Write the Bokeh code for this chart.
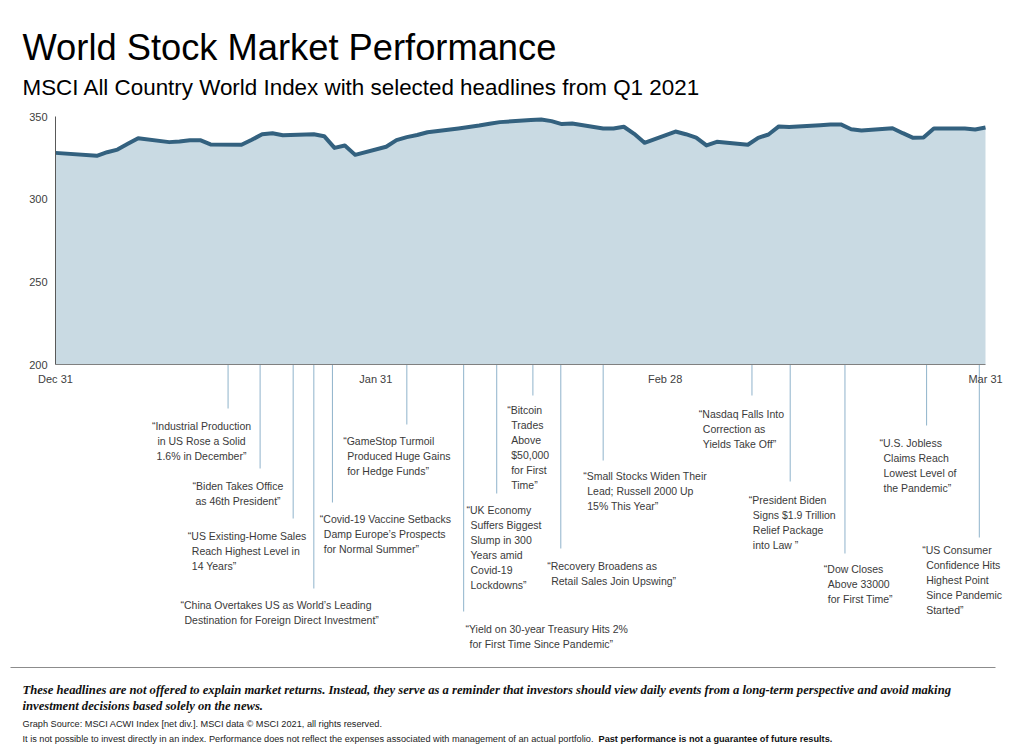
import pandas as pd
from bokeh.plotting import figure
from bokeh.models import ColumnDataSource, Range1d, FixedTicker
from bokeh.core.properties import value
from bokeh.embed import file_html
from bokeh.resources import INLINE

# ---------------- data ----------------
dates = ["2020-12-31", "2021-01-04", "2021-01-05", "2021-01-06", "2021-01-07", "2021-01-08",
         "2021-01-11", "2021-01-12", "2021-01-13", "2021-01-14", "2021-01-15",
         "2021-01-18", "2021-01-19", "2021-01-20", "2021-01-21", "2021-01-22",
         "2021-01-25", "2021-01-26", "2021-01-27", "2021-01-28", "2021-01-29",
         "2021-02-01", "2021-02-02", "2021-02-03", "2021-02-04", "2021-02-05",
         "2021-02-08", "2021-02-09", "2021-02-10", "2021-02-11", "2021-02-12",
         "2021-02-15", "2021-02-16", "2021-02-17", "2021-02-18", "2021-02-19",
         "2021-02-22", "2021-02-23", "2021-02-24", "2021-02-25", "2021-02-26",
         "2021-03-01", "2021-03-02", "2021-03-03", "2021-03-04", "2021-03-05",
         "2021-03-08", "2021-03-09", "2021-03-10", "2021-03-11", "2021-03-12",
         "2021-03-15", "2021-03-16", "2021-03-17", "2021-03-18", "2021-03-19",
         "2021-03-22", "2021-03-23", "2021-03-24", "2021-03-25", "2021-03-26",
         "2021-03-29", "2021-03-30", "2021-03-31"]
index_values = [328.0, 326.2, 328.4, 330.0, 333.5, 336.9,
                334.5, 334.9, 335.7, 335.7, 333.1,
                332.9, 335.9, 339.3, 339.9, 338.7,
                339.3, 338.1, 331.0, 332.5, 326.8,
                331.7, 335.7, 337.5, 338.8, 340.5,
                342.8, 343.7, 344.5, 345.6, 346.6,
                347.9, 348.2, 347.2, 345.4, 345.8,
                342.7, 342.7, 343.8, 339.5, 334.1,
                340.9, 339.3, 337.2, 332.5, 334.7,
                332.9, 337.1, 339.1, 344.0, 343.6,
                344.7, 345.2, 345.2, 342.3, 341.6,
                342.9, 339.9, 337.1, 337.3, 342.7,
                342.7, 342.1, 343.3]

tick_dates = ["2020-12-31", "2021-01-31", "2021-02-28", "2021-03-31"]
tick_labels = ["Dec 31", "Jan 31", "Feb 28", "Mar 31"]
y_ticks = [200, 250, 300, 350]

# headline positions, in days after Dec 31
event_days = [16.7, 19.8, 23.0, 25.0, 26.8, 34.0, 39.5, 42.7,
              46.2, 48.9, 53.0, 67.4, 71.1, 76.4, 84.3, 89.4]
headlines = [
    "\u201cIndustrial Production\nin US Rose a Solid\n1.6% in December\u201d",
    "\u201cBiden Takes Office\nas 46th President\u201d",
    "\u201cUS Existing-Home Sales\nReach Highest Level in\n14 Years\u201d",
    "\u201cChina Overtakes US as World\u2019s Leading\nDestination for Foreign Direct Investment\u201d",
    "\u201cCovid-19 Vaccine Setbacks\nDamp Europe\u2019s Prospects\nfor Normal Summer\u201d",
    "\u201cGameStop Turmoil\nProduced Huge Gains\nfor Hedge Funds\u201d",
    "\u201cYield on 30-year Treasury Hits 2%\nfor First Time Since Pandemic\u201d",
    "\u201cUK Economy\nSuffers Biggest\nSlump in 300\nYears amid\nCovid-19\nLockdowns\u201d",
    "\u201cBitcoin\nTrades\nAbove\n$50,000\nfor First\nTime\u201d",
    "\u201cRecovery Broadens as\nRetail Sales Join Upswing\u201d",
    "\u201cSmall Stocks Widen Their\nLead; Russell 2000 Up\n15% This Year\u201d",
    "\u201cNasdaq Falls Into\nCorrection as\nYields Take Off\u201d",
    "\u201cPresident Biden\nSigns $1.9 Trillion\nRelief Package\ninto Law \u201d",
    "\u201cDow Closes\nAbove 33000\nfor First Time\u201d",
    "\u201cU.S. Jobless\nClaims Reach\nLowest Level of\nthe Pandemic\u201d",
    "\u201cUS Consumer\nConfidence Hits\nHighest Point\nSince Pandemic\nStarted\u201d",
]

# ---------------- layout (canvas pixels) ----------------
stem_end_px = [408, 468, 518, 588, 502, 424, 611, 493, 395, 548, 460, 395, 481, 553, 425, 537]
text_x_px = [201, 237.5, 187.3, 180, 319.3, 342.7, 465, 466, 506.7, 546.7, 582.7,
             698.3, 748.3, 823.3, 879, 921.7]
text_top_px = [421, 481, 531, 600.5, 514.5, 436.7, 624, 505, 405, 561, 471.7,
               409, 495, 564.3, 438.3, 545.7]
text_mode = ["center", "center"] + ["left"] * 14
LINE_H = 15
INDENT = 4

W, H = 1024, 749
FX0, FX1, FY0, FY1 = 55, 985, 116, 364   # data area edges on the canvas
X_MIN, X_MAX, Y_MIN, Y_MAX = 0, 90, 200, 350
SANS = "Liberation Sans"


def dx(px):
    return X_MIN + (px - FX0) * (X_MAX - X_MIN) / (FX1 - FX0)


def dy(py):
    return Y_MIN + (FY1 - py) * (Y_MAX - Y_MIN) / (FY1 - FY0)


base = pd.Timestamp("2020-12-31")
days = [(pd.Timestamp(d) - base).days for d in dates]
tick_days = [(pd.Timestamp(d) - base).days for d in tick_dates]

p = figure(width=W, height=H, output_backend="svg", toolbar_location=None,
           x_range=Range1d(dx(0), dx(W)), y_range=Range1d(dy(H), dy(0)),
           min_border=0, title_location=None)
p.outline_line_color = None
p.xgrid.visible = False
p.ygrid.visible = False
p.background_fill_color = "white"
p.border_fill_color = "white"

src = ColumnDataSource(dict(x=days, y=index_values, base=[Y_MIN] * len(days)))
p.varea(x="x", y1="base", y2="y", source=src, fill_color="#c9dae3")
p.line(x="x", y="y", source=src, line_color="#33617f", line_width=4, line_join="round")

# axes, pinned at the data origin
p.yaxis.fixed_location = X_MIN
p.yaxis.bounds = (Y_MIN, Y_MAX)
p.xaxis.fixed_location = Y_MIN
p.xaxis.bounds = (X_MIN, X_MAX)
p.yaxis.ticker = FixedTicker(ticks=y_ticks)
p.xaxis.ticker = FixedTicker(ticks=tick_days)
p.xaxis.major_label_overrides = {t: l for t, l in zip(tick_days, tick_labels)}
for ax in (p.xaxis, p.yaxis):
    ax.major_tick_line_color = None
    ax.minor_tick_line_color = None
    ax.major_tick_out = 0
    ax.major_tick_in = 0
    ax.major_label_text_font = SANS
    ax.major_label_text_font_size = "11px"
    ax.major_label_text_color = "#404040"
p.yaxis.axis_line_color = "#595959"
p.xaxis.axis_line_color = "#808080"
p.yaxis.major_label_standoff = 8
p.xaxis.major_label_standoff = 8

# stems of the headlines
p.segment(x0=event_days, x1=event_days, y0=[Y_MIN] * len(event_days),
          y1=[dy(v) for v in stem_end_px], line_color="#8fb3cb", line_width=1)

# headline texts
rows = {"left": dict(x=[], y=[], t=[]), "center": dict(x=[], y=[], t=[])}
for txt, tx, ty, mode in zip(headlines, text_x_px, text_top_px, text_mode):
    for j, line in enumerate(txt.split("\n")):
        xx = tx + (INDENT if (j > 0 and mode == "left") else 0)
        rows[mode]["x"].append(dx(xx))
        rows[mode]["y"].append(dy(ty + j * LINE_H + 4))
        rows[mode]["t"].append(line)
for mode, r in rows.items():
    p.text(x="x", y="y", text="t", source=ColumnDataSource(r),
           text_align=mode, text_baseline="alphabetic",
           text_font=value(SANS), text_font_size="10.5px",
           text_color="#3a3a3a")


def label(px, py, txt, size, font=SANS, style="normal", color="black"):
    p.text(x=[dx(px)], y=[dy(py)], text=[txt], text_font=value(font), text_font_size=size,
           text_font_style=style, text_color=color, text_baseline="alphabetic",
           text_align="left")


# titles
label(22, 47, "World Stock Market Performance", "36.3px")
label(22, 87, "MSCI All Country World Index with selected headlines from Q1 2021", "22.4px")

# footer
p.segment(x0=[dx(10)], x1=[dx(995)], y0=[dy(667)], y1=[dy(667)], line_color="#8c8c8c", line_width=1)
foot1 = ("These headlines are not offered to explain market returns. Instead, they serve as a reminder "
         "that investors should view daily events from a long-term perspective and avoid making")
foot2 = "investment decisions based solely on the news."
label(22, 689, foot1, "12.65px", "Liberation Serif", "bold italic", "#111111")
label(22, 705, foot2, "12.65px", "Liberation Serif", "bold italic", "#111111")
src1 = "Graph Source: MSCI ACWI Index [net div.]. MSCI data \u00a9 MSCI 2021, all rights reserved."
src2 = ("It is not possible to invest directly in an index. Performance does not reflect the expenses "
        "associated with management of an actual portfolio.")
src3 = "Past performance is not a guarantee of future results."
label(22, 723, src1, "9.2px", SANS, "normal", "#222222")
label(22, 738, src2, "9.2px", SANS, "normal", "#222222")
label(598, 738, src3, "9.2px", SANS, "bold", "#111111")

open("out.html", "w").write(file_html(p, INLINE))
